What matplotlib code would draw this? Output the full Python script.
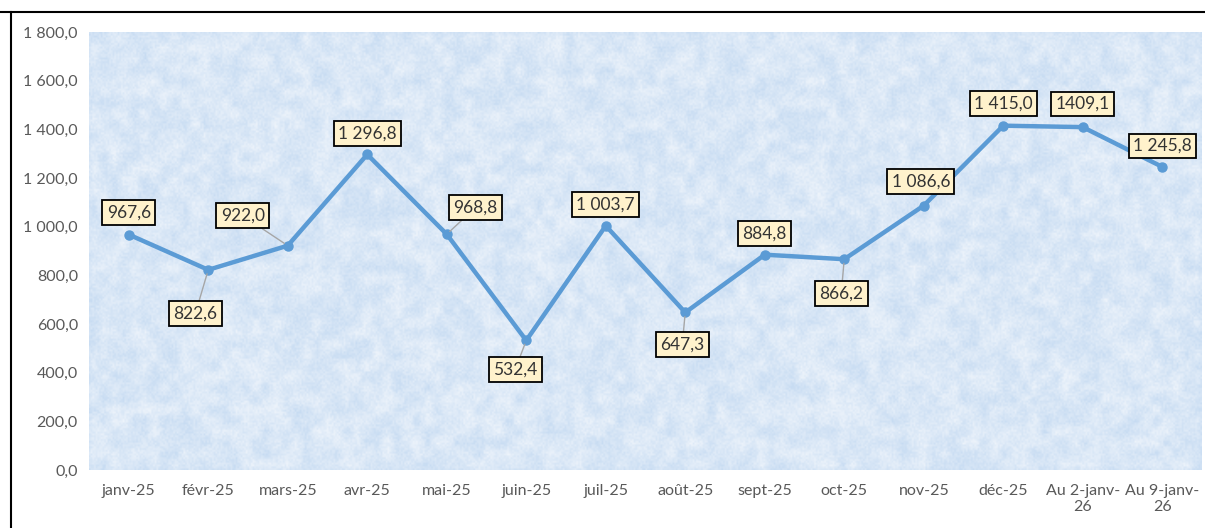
import numpy as np
import matplotlib.pyplot as plt
from matplotlib.lines import Line2D

plt.rcParams['font.family'] = ['Lato', 'DejaVu Sans']

months = ['janv-25', 'févr-25', 'mars-25', 'avr-25', 'mai-25', 'juin-25', 'juil-25',
          'août-25', 'sept-25', 'oct-25', 'nov-25', 'déc-25', 'Au 2-janv-\n26', 'Au 9-janv-\n26']
values = [967.6, 822.6, 922.0, 1296.8, 968.8, 532.4, 1003.7,
          647.3, 884.8, 866.2, 1086.6, 1415.0, 1409.1, 1245.8]
labels = ['967,6', '822,6', '922,0', '1 296,8', '968,8', '532,4', '1 003,7',
          '647,3', '884,8', '866,2', '1 086,6', '1 415,0', '1409,1', '1 245,8']

# label offsets in pixels, and whether a leader line is drawn
offsets = [(0, 22), (-13, -44), (-45, 30), (0, 21), (29, 27), (-11, -29), (0, 21),
           (-3, -32), (0, 21), (-3, -34), (-3, 24), (0, 22), (0, 23), (0, 21)]
leaders = [False, True, True, False, True, True, False,
           True, False, True, False, False, False, False]

fig = plt.figure(figsize=(12.05, 5.28), dpi=100)
ax = fig.add_axes([89/1205, 1 - 470/528, 1 - 89/1205 - 3/1205, 438/528])

x = np.arange(len(values))
ax.set_xlim(-0.5, len(values) - 0.5)
ax.set_ylim(0, 1800)

# textured light blue backdrop
rng = np.random.default_rng(3)
coarse = rng.random((40, 110))
coarse = np.kron(coarse, np.ones((6, 6)))
k = np.ones(5) / 5
coarse = np.apply_along_axis(lambda r: np.convolve(r, k, mode='same'), 1, coarse)
coarse = np.apply_along_axis(lambda c: np.convolve(c, k, mode='same'), 0, coarse)
fine = rng.random(coarse.shape)
noise = 0.6 * coarse + 0.4 * fine
noise = (noise - noise.min()) / (noise.max() - noise.min())
c1 = np.array([198, 219, 242]) / 255
c2 = np.array([238, 244, 251]) / 255
tex = c1 + (c2 - c1) * noise[..., None]
ax.imshow(tex, extent=(-0.5, len(values) - 0.5, 0, 1800), aspect='auto',
          interpolation='bilinear', zorder=0)

ax.plot(x, values, color='#5b9bd5', lw=3.2, marker='o', ms=6.5, zorder=3,
        solid_capstyle='round')

for xi, v, lab, off, ld in zip(x, values, labels, offsets, leaders):
    ap = dict(arrowstyle='-', color='#a6a6a6', lw=1, shrinkA=0, shrinkB=3) if ld else None
    ax.annotate(lab, (xi, v), xytext=off, textcoords='offset pixels',
                ha='center', va='center', fontsize=12.5, color='#333333',
                bbox=dict(boxstyle='square,pad=0.25', fc='#fff2cc', ec='black', lw=1.3),
                arrowprops=ap, zorder=4)

ax.set_yticks(np.arange(0, 1801, 200))
ax.set_yticklabels([f'{int(t):,}'.replace(',', ' ') + ',0' for t in np.arange(0, 1801, 200)])
ax.set_xticks(x)
ax.set_xticklabels(months)
ax.tick_params(length=0, labelsize=11.5, labelcolor='#595959', pad=10)
ax.tick_params(axis='y', pad=8)
for s in ax.spines.values():
    s.set_visible(False)

# outer frame
fig.add_artist(Line2D([0, 1], [1 - 12/528, 1 - 12/528], color='black', lw=1.5))
fig.add_artist(Line2D([11/1205, 11/1205], [0, 1 - 12/528], color='black', lw=1.5))

fig.savefig('out.png', dpi=100)
